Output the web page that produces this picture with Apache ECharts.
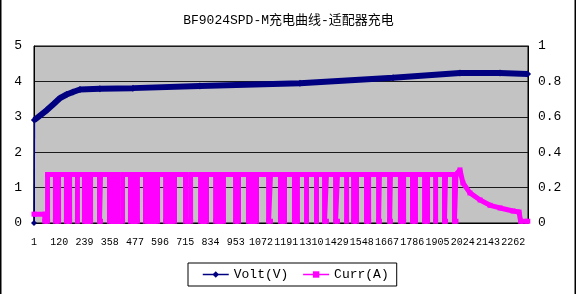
<!DOCTYPE html>
<html><head><meta charset="utf-8">
<script src="https://cdn.jsdelivr.net/npm/echarts@6/dist/echarts.min.js"></script>
<style>html,body{margin:0;padding:0;background:#fff}#c{width:577px;height:294px}</style>
</head><body><div id="c"></div>
<script>
const titleText = 'BF9024SPD-M充电曲线-适配器充电';
const seriesNames = ['Volt(V)', 'Curr(A)'];
const xTickLabels = [1,120,239,358,477,596,715,834,953,1072,1191,1310,1429,1548,1667,1786,1905,2024,2143,2262];
const voltX = [1, 3, 62, 95, 124, 155, 185, 218, 312, 468, 784, 1256, 1695, 2011, 2200, 2330];
const voltY = [0, 2.91, 3.19, 3.37, 3.53, 3.63, 3.70, 3.77, 3.79, 3.81, 3.87, 3.95, 4.10, 4.24, 4.24, 4.21];
const currPoints = [
[1,0.05],[52,0.05],[52,0.01],[65,0.01],[65,0.274],
[102,0.274],[102,0.01],[117,0.01],[117,0.274],
[154,0.274],[154,0.01],[169,0.01],[169,0.274],
[206,0.274],[206,0.01],[206,0.274],
[239,0.274],[239,0.01],[253,0.01],[253,0.274],[253,0.01],[268,0.01],[268,0.274],
[310,0.274],[310,0.01],[315,0.01],[315,0.274],
[357,0.274],[357,0.01],[376,0.01],[376,0.274],[376,0.01],[395,0.01],[395,0.274],[395,0.01],[419,0.01],[419,0.274],
[456,0.274],[456,0.01],[473,0.01],[473,0.274],[473,0.01],[489,0.01],[489,0.274],
[527,0.274],[527,0.01],[546,0.01],[546,0.274],[546,0.01],[565,0.01],[565,0.274],[565,0.01],[584,0.01],[584,0.274],
[622,0.274],[622,0.01],[643,0.01],[643,0.274],[643,0.01],[664,0.01],[664,0.274],
[716,0.274],[716,0.01],[740,0.01],[740,0.274],
[787,0.274],[787,0.01],[801,0.01],[801,0.274],[801,0.01],[815,0.01],[815,0.274],
[858,0.274],[858,0.01],[876,0.01],[876,0.274],[876,0.01],[895,0.01],[895,0.274],
[952,0.274],[952,0.01],[966,0.01],[966,0.274],
[1013,0.274],[1013,0.01],[1032,0.01],[1032,0.274],[1032,0.01],[1051,0.01],[1051,0.274],
[1108,0.274],[1108,0.01],[1117,0.01],[1117,0.274],
[1164,0.274],[1164,0.01],[1183,0.01],[1183,0.274],
[1230,0.274],[1230,0.01],[1244,0.01],[1244,0.274],
[1287,0.274],[1287,0.01],[1287,0.274],
[1334,0.274],[1334,0.01],[1334,0.274],
[1372,0.274],[1372,0.01],[1381,0.01],[1381,0.274],
[1424,0.274],[1424,0.01],[1433,0.01],[1433,0.274],
[1476,0.274],[1476,0.01],[1476,0.274],
[1509,0.274],[1509,0.01],[1523,0.01],[1523,0.274],
[1570,0.274],[1570,0.01],[1580,0.01],[1580,0.274],
[1627,0.274],[1627,0.01],[1631,0.01],[1631,0.274],
[1679,0.274],[1679,0.01],[1683,0.01],[1683,0.274],
[1730,0.274],[1730,0.01],[1745,0.01],[1745,0.274],
[1787,0.274],[1787,0.01],[1801,0.01],[1801,0.274],
[1844,0.274],[1844,0.01],[1858,0.01],[1858,0.274],
[1896,0.274],[1896,0.01],[1896,0.274],
[1938,0.274],[1938,0.01],[1943,0.01],[1943,0.274],
[1985,0.274],[1985,0.01],[1992,0.01],[1992,0.274],
[2011,0.30],[2025,0.226],[2058,0.17],[2106,0.13],[2153,0.10],[2200,0.085],[2261,0.068],[2290,0.062],[2297,0.01],[2331,0.01]
];

const voltData = voltX.map((x, i) => [x, voltY[i]]);
const monoFont = "'Liberation Mono','Noto Sans CJK SC',monospace";
const chart = echarts.init(document.getElementById('c'), null, {renderer: 'canvas'});
chart.setOption({
  animation: false,
  backgroundColor: '#ffffff',
  title: {
    text: titleText, left: 'center', top: 9,
    textStyle: {fontFamily: monoFont, fontSize: 13, fontWeight: 'normal', color: '#000'}
  },
  graphic: [{
    type: 'rect', silent: true, z: 100,
    shape: {x: 0.75, y: -5, width: 574.5, height: 310},
    style: {fill: 'none', stroke: '#000', lineWidth: 1.5}
  }],
  legend: {
    data: seriesNames, left: 188, top: 263,
    padding: [5, 8, 5, 14], itemGap: 14, itemWidth: 26, itemHeight: 8,
    borderColor: '#000', borderWidth: 1, backgroundColor: '#fff',
    lineStyle: {width: 1.5},
    textStyle: {fontFamily: monoFont, fontSize: 13, color: '#000'}
  },
  grid: {
    left: 34, right: 49, top: 46, bottom: 71, show: true,
    backgroundColor: '#c3c3c3', borderColor: '#000', borderWidth: 1
  },
  xAxis: {
    type: 'value', min: 1, max: 2332,
    axisLine: {show: true, lineStyle: {color: '#000', width: 1}},
    axisTick: {show: false},
    splitLine: {show: false},
    axisLabel: {customValues: xTickLabels, margin: 14, color: '#000', fontFamily: monoFont, fontSize: 10,
      hideOverlap: false, showMaxLabel: true, formatter: v => String(v)}
  },
  yAxis: [{
    type: 'value', min: 0, max: 5, interval: 1, position: 'left',
    axisLine: {show: true, lineStyle: {color: '#000'}},
    axisTick: {show: false},
    splitLine: {show: true, lineStyle: {color: '#1a1a1a', width: 1}},
    axisLabel: {margin: 12, color: '#000', fontFamily: monoFont, fontSize: 13}
  }, {
    type: 'value', min: 0, max: 1, interval: 0.2, position: 'right',
    axisLine: {show: true, lineStyle: {color: '#000'}},
    axisTick: {show: false},
    splitLine: {show: false},
    axisLabel: {margin: 10, color: '#000', fontFamily: monoFont, fontSize: 13,
      formatter: v => (v === 0 || v === 1) ? String(v) : v.toFixed(1)}
  }],
  series: [{
    name: seriesNames[0], type: 'line', yAxisIndex: 0, data: voltData.slice(1),
    symbol: 'diamond', symbolSize: 7, showSymbol: true, clip: false,
    lineStyle: {width: 6, color: '#000080'}, itemStyle: {color: '#000080'}
  }, {
    name: seriesNames[0], type: 'line', yAxisIndex: 0, data: voltData.slice(0, 2),
    symbol: 'diamond', symbolSize: 6, showSymbol: true, clip: false,
    lineStyle: {width: 1.5, color: '#000080'}, itemStyle: {color: '#000080'}
  }, {
    name: seriesNames[1], type: 'line', yAxisIndex: 1, data: currPoints,
    symbol: 'rect', symbolSize: 5, showSymbol: true, clip: false,
    lineStyle: {width: 5, color: '#ff00ff'}, itemStyle: {color: '#ff00ff'}
  }]
});
</script></body></html>
